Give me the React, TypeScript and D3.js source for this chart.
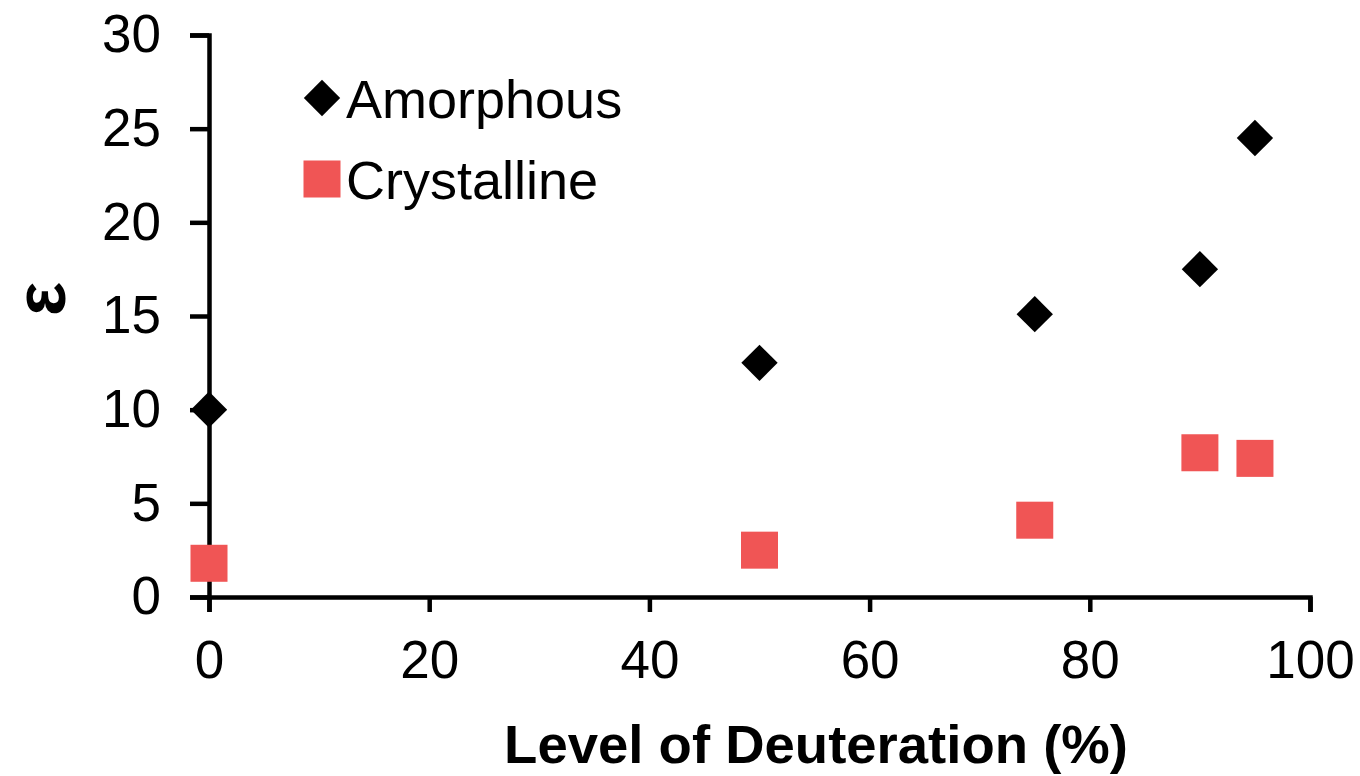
import React, { useEffect, useRef } from 'react';
import * as d3 from 'd3';

const deuteration = [0, 50, 75, 90, 95];
const amorphous = [10.0, 12.5, 15.1, 17.5, 24.5];
const crystalline = [1.8, 2.5, 4.1, 7.7, 7.4];
const xTicks = [0, 20, 40, 60, 80, 100];
const yTicks = [0, 5, 10, 15, 20, 25, 30];

const App: React.FC = () => {
  const ref = useRef<SVGSVGElement | null>(null);

  useEffect(() => {
    const svg = d3.select(ref.current);
    svg.selectAll('*').remove();

    const font = '"Liberation Sans", Arial, sans-serif';
    const x = d3.scaleLinear().domain([0, 100]).range([209, 1310]);
    const y = d3.scaleLinear().domain([0, 30]).range([597, 35]);

    // Axes
    const xAxis = svg
      .append('g')
      .attr('transform', `translate(0,${y(0)})`)
      .call(d3.axisBottom(x).tickValues(xTicks).tickSize(15).tickSizeOuter(15).tickPadding(28));
    const yAxis = svg
      .append('g')
      .attr('transform', `translate(${x(0)},0)`)
      .call(d3.axisLeft(y).tickValues(yTicks).tickSize(19).tickSizeOuter(19).tickPadding(29));

    [xAxis, yAxis].forEach((g) => {
      g.selectAll('path, line').attr('stroke', '#000').attr('stroke-width', 4.5);
      g.selectAll('text')
        .attr('fill', '#000')
        .style('font-family', font)
        .style('font-size', '53px');
    });

    // Crystalline squares
    const sq = 37;
    svg
      .append('g')
      .selectAll('rect')
      .data(deuteration)
      .enter()
      .append('rect')
      .attr('x', (d) => x(d) - sq / 2)
      .attr('y', (_, i) => y(crystalline[i]) - sq / 2)
      .attr('width', sq)
      .attr('height', sq)
      .attr('fill', '#f05555');

    // Amorphous diamonds
    const diamond = d3.symbol().type(d3.symbolSquare).size(660);
    svg
      .append('g')
      .selectAll('path')
      .data(deuteration)
      .enter()
      .append('path')
      .attr('d', diamond)
      .attr('transform', (d, i) => `translate(${x(d)},${y(amorphous[i])}) rotate(45)`)
      .attr('fill', '#000');

    // Legend
    const legend = svg.append('g');
    legend
      .append('path')
      .attr('d', diamond)
      .attr('transform', 'translate(322,98) rotate(45)')
      .attr('fill', '#000');
    legend
      .append('text')
      .attr('x', 346)
      .attr('y', 118)
      .text('Amorphous');
    legend
      .append('rect')
      .attr('x', 322 - sq / 2)
      .attr('y', 179 - sq / 2)
      .attr('width', sq)
      .attr('height', sq)
      .attr('fill', '#f05555');
    legend
      .append('text')
      .attr('x', 346)
      .attr('y', 199)
      .text('Crystalline');
    legend.selectAll('text').style('font-family', font).style('font-size', '54px').attr('fill', '#000');

    // Axis titles
    svg
      .append('text')
      .attr('x', 816)
      .attr('y', 763)
      .attr('text-anchor', 'middle')
      .style('font-family', font)
      .style('font-size', '54.5px')
      .style('font-weight', 'bold')
      .text('Level of Deuteration (%)');
    svg
      .append('text')
      .attr('transform', 'translate(65,299) rotate(-90)')
      .attr('text-anchor', 'middle')
      .style('font-family', font)
      .style('font-size', '72px')
      .style('font-weight', 'bold')
      .text('ε');
  }, []);

  return (
    <svg
      ref={ref}
      width={1360}
      height={776}
      style={{ position: 'absolute', left: 0, top: 0, background: '#fff' }}
    />
  );
};

export default App;
